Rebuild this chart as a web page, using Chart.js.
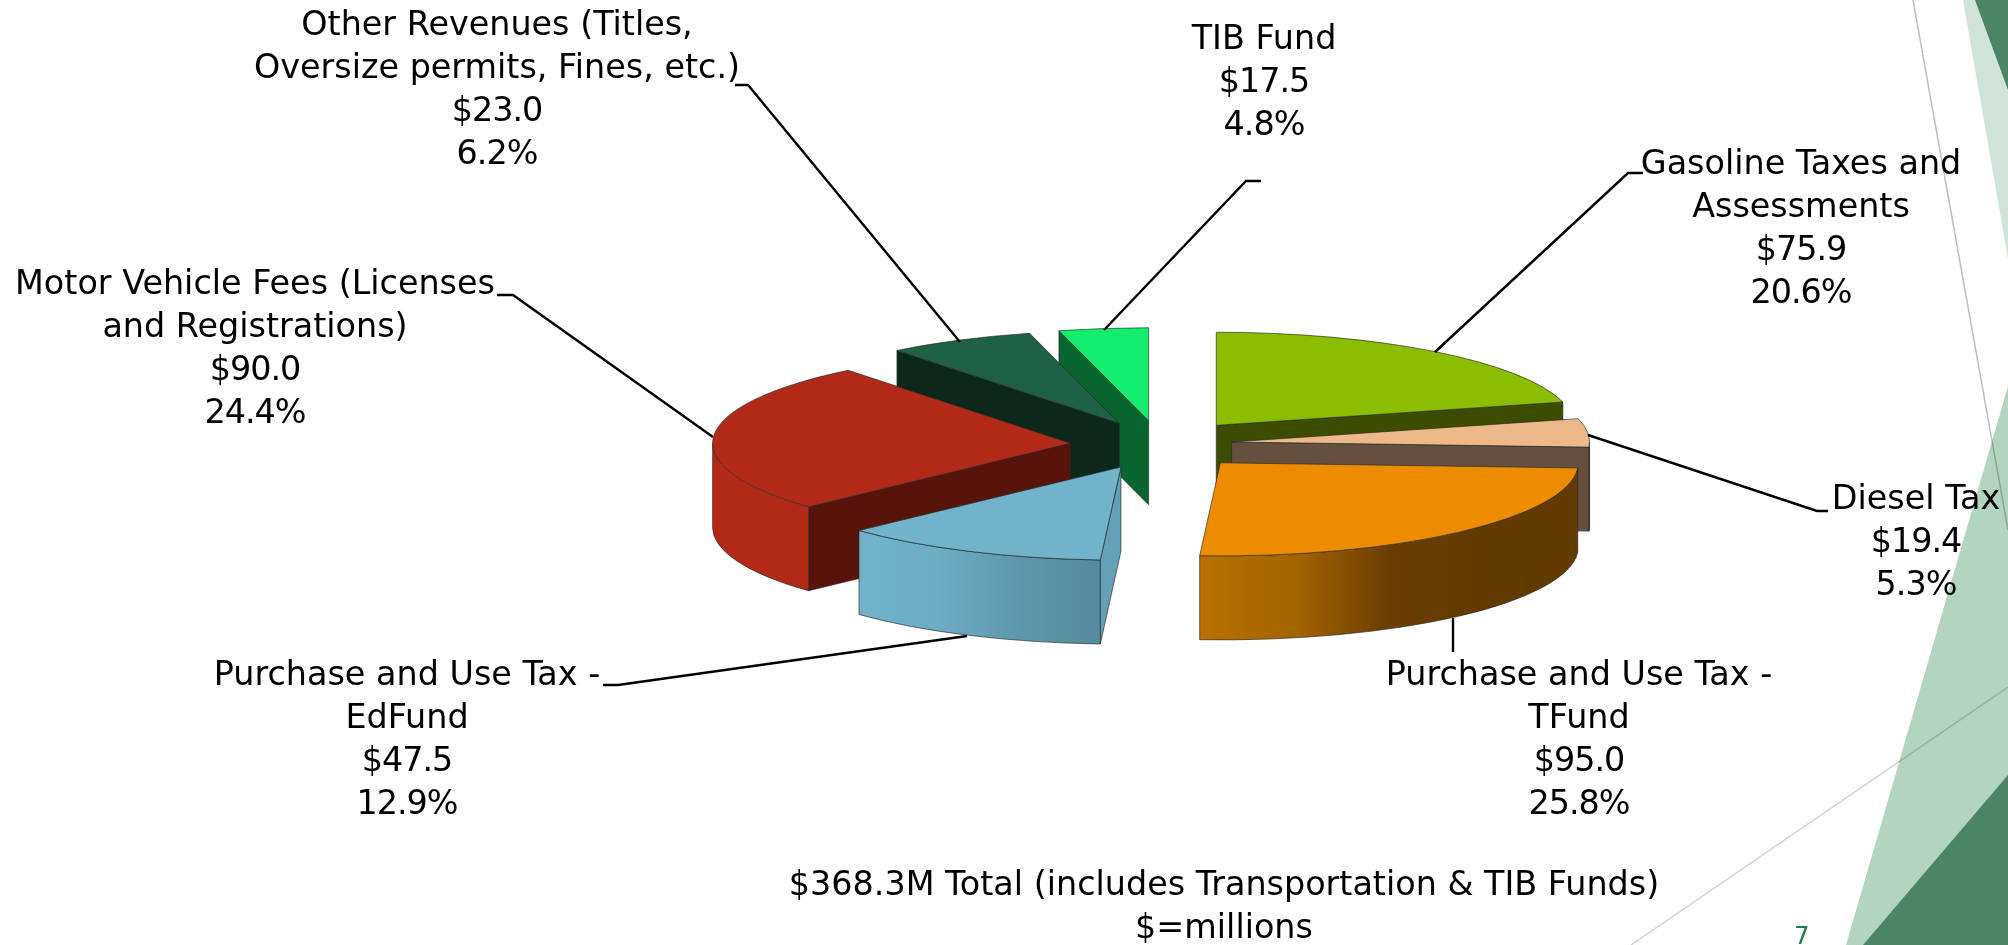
<!DOCTYPE html>
<html>
<head>
<meta charset="utf-8">
<script src="https://cdn.jsdelivr.net/npm/chart.js@4/dist/chart.umd.js"></script>
<style>
  html, body { margin: 0; padding: 0; background: #fff; overflow: hidden; }
  canvas { display: block; }
</style>
</head>
<body>
<canvas id="revenue" width="2008" height="945"></canvas>
<script>
var categories = [
  "Gasoline Taxes and Assessments",
  "Diesel Tax",
  "Purchase and Use Tax - TFund",
  "Purchase and Use Tax - EdFund",
  "Motor Vehicle Fees (Licenses and Registrations)",
  "Other Revenues (Titles, Oversize permits, Fines, etc.)",
  "TIB Fund"
];
var revenues = [75.9, 19.4, 95.0, 47.5, 90.0, 23.0, 17.5];
var shares = ["20.6%", "5.3%", "25.8%", "12.9%", "24.4%", "6.2%", "4.8%"];
var footnotes = ["$368.3M Total (includes Transportation & TIB Funds)", "$=millions"];
var pageNumber = "7";

// wrapped label text, same order as categories
var labelLines = [
  ["Gasoline Taxes and", "Assessments"],
  ["Diesel Tax"],
  ["Purchase and Use Tax -", "TFund"],
  ["Purchase and Use Tax -", "EdFund"],
  ["Motor Vehicle Fees (Licenses", "and Registrations)"],
  ["Other Revenues (Titles,", "Oversize permits, Fines, etc.)"],
  ["TIB Fund"]
];
var labelX = [1801, 1916, 1579, 407, 255, 497, 1264];
var labelY = [165, 500, 676, 676, 285, 26, 40];
var leaders = [
  [[1643, 173], [1628, 173], [1435, 352]],
  [[1588, 435], [1817, 511], [1828, 511]],
  [[1453, 618], [1453, 652]],
  [[967, 636], [618, 685], [603, 685]],
  [[497, 295], [513, 295], [713, 437]],
  [[735, 85], [748, 85], [960, 342]],
  [[1261, 181], [1246, 181], [1104, 330]]
];

var topColors = ["#8bbd00", "#edb98a", "#ee8c00", "#70b3cb", "#b22a17", "#1e6145", "#13ee6e"];
var wallColors = ["#3d4d00", "#65503d", "#7a4800", "#64a0b6", "#58140a", "#0b281a", "#086530"];
var rimStops = [
  ["#3d4d00", "#3d4d00"],
  ["#65503d", "#65503d"],
  ["#b87000", "#a46400", "#6b3e00", "#633a00", "#633a00"],
  ["#70b3cb", "#6cacc4", "#5e97ab", "#548a9d"],
  ["#b22a17", "#b22a17"],
  ["#0b281a", "#0b281a"],
  ["#086530", "#086530"]
];
var explode = [90, 70, 90, 84, 92, 90, 90];
var dropY = [0, 0, 1, 4, 2, 0, 0];
// the original's camera skews the slice edges a little, degrees per edge
var edgeSkew = [0, 1.3, 0, -2.7, -5.4, 1.2, 2.6, 0];
var drawOrder = [0, 1, 6, 5, 4, 2, 3];
var tilt = 0.26;
var depth = 84;
var outlineColor = "rgba(40,40,40,0.65)";
var fontFamily = "'DejaVu Sans', sans-serif";

function drawSlice(ctx, arc, i) {
  var startAngle = arc.startAngle, endAngle = arc.endAngle;
  var a0 = startAngle + edgeSkew[i] * Math.PI / 180;
  var a1 = endAngle + edgeSkew[i + 1] * Math.PI / 180;
  var r = arc.outerRadius;
  var mid = (startAngle + endAngle) / 2;
  var cx = arc.x + Math.cos(mid) * explode[i];
  var cy = arc.y + Math.sin(mid) * explode[i] * tilt + dropY[i];
  var rY = r * tilt;

  function edgeWall(a) {
    ctx.beginPath();
    ctx.moveTo(cx, cy);
    ctx.lineTo(cx + Math.cos(a) * r, cy + Math.sin(a) * rY);
    ctx.lineTo(cx + Math.cos(a) * r, cy + Math.sin(a) * rY + depth);
    ctx.lineTo(cx, cy + depth);
    ctx.closePath();
    ctx.fillStyle = wallColors[i];
    ctx.fill();
    ctx.strokeStyle = outlineColor;
    ctx.lineWidth = 1;
    ctx.stroke();
  }

  // cut faces that look towards the viewer
  if (Math.sin(a0 - Math.PI / 2) > 0) edgeWall(a0);
  if (Math.sin(a1 + Math.PI / 2) > 0) edgeWall(a1);

  // outer rim, only the front half of the ellipse shows
  var from = Math.max(a0, 0), to = Math.min(a1, Math.PI);
  if (to > from) {
    var x0 = cx + Math.cos(to) * r, x1 = cx + Math.cos(from) * r;
    var grad = ctx.createLinearGradient(x0, 0, x1, 0);
    rimStops[i].forEach(function (c, k, all) { grad.addColorStop(k / (all.length - 1), c); });
    ctx.beginPath();
    ctx.ellipse(cx, cy, r, rY, 0, from, to);
    ctx.ellipse(cx, cy + depth, r, rY, 0, to, from, true);
    ctx.closePath();
    ctx.fillStyle = grad;
    ctx.fill();
    ctx.strokeStyle = outlineColor;
    ctx.lineWidth = 1;
    ctx.stroke();
  }

  // top face comes from the library's arc element, squashed and pulled out
  arc.startAngle = a0;
  arc.endAngle = a1;
  ctx.save();
  ctx.translate(cx, cy);
  ctx.scale(1, tilt);
  ctx.translate(-arc.x, -arc.y);
  arc.draw(ctx);
  ctx.restore();
  arc.startAngle = startAngle;
  arc.endAngle = endAngle;

  ctx.beginPath();
  ctx.moveTo(cx, cy);
  ctx.ellipse(cx, cy, r, rY, 0, a0, a1);
  ctx.closePath();
  ctx.strokeStyle = outlineColor;
  ctx.lineWidth = 1;
  ctx.stroke();
}

function polygon(ctx, pts, color) {
  ctx.beginPath();
  pts.forEach(function (p, k) { k ? ctx.lineTo(p[0], p[1]) : ctx.moveTo(p[0], p[1]); });
  ctx.closePath();
  ctx.fillStyle = color;
  ctx.fill();
}

var slidePlugin = {
  id: "slide",
  beforeDraw: function (chart) {
    var ctx = chart.ctx;
    ctx.save();
    polygon(ctx, [[1963, 0], [2008, 0], [2008, 259]], "#cfe3d8");
    polygon(ctx, [[1975, 0], [2008, 0], [2008, 90]], "#4b8568");
    polygon(ctx, [[2008, 386], [1846, 945], [2008, 945]], "#b2d4c1");
    polygon(ctx, [[2008, 775], [1863, 945], [2008, 945]], "#4b8568");
    ctx.lineWidth = 1.5;
    ctx.strokeStyle = "rgba(90,90,90,0.4)";
    ctx.beginPath();
    ctx.moveTo(1913, 0);
    ctx.lineTo(2008, 530);
    ctx.stroke();
    ctx.strokeStyle = "rgba(90,90,90,0.27)";
    ctx.beginPath();
    ctx.moveTo(1631, 945);
    ctx.lineTo(2008, 687);
    ctx.stroke();
    ctx.restore();
  }
};

var pie3dPlugin = {
  id: "pie3d",
  beforeDatasetsDraw: function (chart) {
    var ctx = chart.ctx;
    var arcs = chart.getDatasetMeta(0).data;
    drawOrder.forEach(function (i) { drawSlice(ctx, arcs[i], i); });
    return false;
  },
  afterDraw: function (chart) {
    var ctx = chart.ctx;
    ctx.save();
    ctx.strokeStyle = "#000";
    ctx.lineWidth = 2.4;
    leaders.forEach(function (line) {
      ctx.beginPath();
      line.forEach(function (p, k) { k ? ctx.lineTo(p[0], p[1]) : ctx.moveTo(p[0], p[1]); });
      ctx.stroke();
    });
    ctx.fillStyle = "#000";
    ctx.textAlign = "center";
    ctx.textBaseline = "middle";
    ctx.font = "33.4px " + fontFamily;
    categories.forEach(function (name, i) {
      var n = labelLines[i].length;
      ctx.letterSpacing = "0px";
      labelLines[i].forEach(function (t, k) { ctx.fillText(t, labelX[i], labelY[i] + k * 43); });
      // the figures sit a little tighter than the words
      ctx.letterSpacing = "-1px";
      ctx.fillText("$" + revenues[i].toFixed(1), labelX[i], labelY[i] + n * 43);
      ctx.fillText(shares[i], labelX[i], labelY[i] + (n + 1) * 43);
    });
    ctx.letterSpacing = "0px";
    footnotes.forEach(function (t, k) { ctx.fillText(t, 1224, 886 + k * 43); });
    ctx.fillStyle = "#1b7a45";
    ctx.font = "24px " + fontFamily;
    ctx.fillText(pageNumber, 1802, 938);
    ctx.restore();
  }
};

var ctx = document.getElementById("revenue").getContext("2d");
var revenueChart = new Chart(ctx, {
  type: "pie",
  data: {
    labels: categories,
    datasets: [{
      data: revenues,
      backgroundColor: topColors,
      borderWidth: 0,
      radius: 358
    }]
  },
  options: {
    responsive: false,
    animation: false,
    layout: { padding: { left: 316, bottom: 57 } },
    plugins: { legend: { display: false }, tooltip: { enabled: false } }
  },
  plugins: [slidePlugin, pie3dPlugin]
});
</script>
</body>
</html>
